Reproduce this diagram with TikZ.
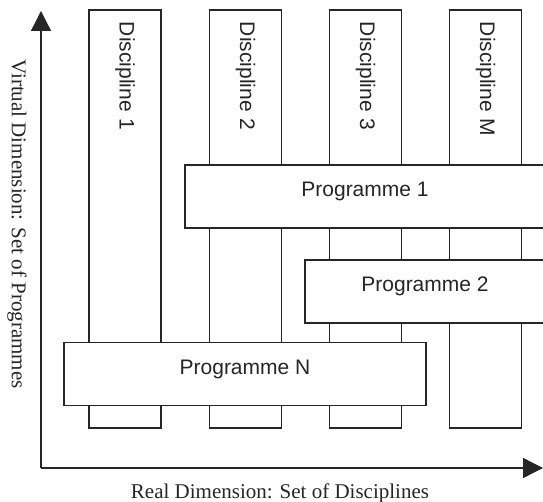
\documentclass[tikz,border=0pt]{standalone}
\usepackage{fontspec}
\setmainfont{Liberation Serif}
\newfontfamily\boxfont{Liberation Sans}
\usetikzlibrary{arrows.meta}
\tikzset{
  ln/.style={draw=black!85, line width=1.3pt},
  discbox/.style={ln, fill=white, rotate=-90, minimum width=418pt, minimum height=72pt,
    text width=394pt, align=left, inner xsep=12pt, inner ysep=0pt,
    font=\boxfont\fontsize{21}{25}\selectfont, text=black!85},
  progbox/.style={ln, fill=white, minimum height=63pt, inner sep=0pt,
    text height=8pt, text depth=8pt,
    font=\boxfont\fontsize{21}{25}\selectfont, text=black!85},
  axislabel/.style={font=\fontsize{21}{25}\selectfont, text=black!85, inner sep=0pt},
  axis/.style={ln, -{Triangle[length=20pt,width=20pt]}}
}
\begin{document}
\begin{tikzpicture}[x=1pt,y=-1pt]
\fill[white] (0,0) rectangle (543,502);
\useasboundingbox (0,0) rectangle (543,502);
\clip (0,0) rectangle (543,502);
% axes
\coordinate (o) at (41,468);
\coordinate (ytip) at (41,11);
\coordinate (xtip) at (543,468);
\draw[axis] (o) -- (ytip);
\draw[axis] (o) -- (xtip);
% disciplines
\node[discbox] (d1) at (125,219) {Discipline 1};
\node[discbox] (d2) at (245.5,219) {Discipline 2};
\node[discbox] (d3) at (365.5,219) {Discipline 3};
\node[discbox] (dm) at (485.5,219) {Discipline M};
% programmes
\node[progbox, minimum width=360pt] (p1) at (365,196.5) {Programme 1};
\node[progbox, minimum width=240pt] (p2) at (425,291.5) {Programme 2};
\node[progbox, minimum width=362pt] (pn) at (245,374) {Programme N};
% axis labels
\node[axislabel, rotate=-90] (ylab) at (17,224) {Virtual Dimension: Set of Programmes};
\node[axislabel, anchor=base] (xlab) at (280,498) {Real Dimension: Set of Disciplines};
\end{tikzpicture}
\end{document}
